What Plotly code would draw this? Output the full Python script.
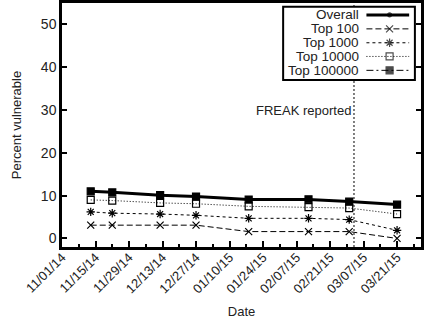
import plotly.graph_objects as go

# Scan dates and percentage of vulnerable hosts per list
dates = ["2014-11-13", "2014-11-22", "2014-12-12", "2014-12-27",
         "2015-01-18", "2015-02-12", "2015-03-01", "2015-03-21"]
overall = [11.0, 10.8, 10.1, 9.8, 9.1, 9.1, 8.6, 7.9]
top100 = [3.1, 3.1, 3.1, 3.1, 1.6, 1.6, 1.6, 0.0]
top1000 = [6.2, 5.9, 5.7, 5.4, 4.7, 4.7, 4.4, 1.9]
top10000 = [9.0, 8.85, 8.3, 8.1, 7.5, 7.3, 7.1, 5.7]
top100000 = [11.0, 10.75, 10.1, 9.8, 9.1, 9.15, 8.6, 7.9]

series_names = ["Overall", "Top 100", "Top 1000", "Top 10000", "Top 100000"]
series_values = [overall, top100, top1000, top10000, top100000]

freak_date = "2015-03-03"
freak_label = "FREAK reported"
x_range = ["2014-11-01", "2015-03-31"]
tick_start = "2014-11-01"
y_ticks = [0, 10, 20, 30, 40, 50]

FONT = "Liberation Sans, Arial, Helvetica, sans-serif"
TXT = "#222222"

styles = [
    dict(dash="solid", width=3, symbol="circle", size=4),
    dict(dash="6px,3px", width=1, symbol="x-thin-open", size=7),
    dict(dash="3px,3px", width=1, symbol="asterisk-open", size=7),
    dict(dash="1px,2px", width=1, symbol="square-open", size=7),
    dict(dash="7px,3px,2px,3px", width=1, symbol="square", size=7),
]

fig = go.Figure()

# data series (draw Overall last so it sits on top)
order = [1, 2, 3, 4, 0]
for i in order:
    st = styles[i]
    fig.add_trace(go.Scatter(
        x=dates, y=series_values[i], name=series_names[i],
        mode="lines+markers",
        line=dict(color="black", width=st["width"], dash=st["dash"]),
        marker=dict(symbol=st["symbol"], size=st["size"], color="black",
                    line=dict(color="black", width=1.2)),
        showlegend=False, xaxis="x", yaxis="y",
    ))

# FREAK disclosure marker
fig.add_shape(type="line", xref="x", yref="paper", x0=freak_date, x1=freak_date,
              y0=0, y1=1, layer="below", line=dict(color="black", width=1, dash="2px,2px"))
fig.add_annotation(x=freak_date, y=30, xref="x", yref="y", text=freak_label,
                   showarrow=False, xanchor="right", yanchor="middle", xshift=-1,
                   font=dict(family=FONT, size=13, color=TXT))

# key box with right-aligned labels and sample lines on an overlay axis
kx0, kx1, ky0, ky1 = 0.616, 0.983, 0.684, 0.985
text_right, samp0, samp1 = 0.831, 0.848, 0.967
rows = [0.951, 0.894, 0.837, 0.781, 0.724]
fig.add_shape(type="rect", xref="paper", yref="paper", x0=kx0, x1=kx1, y0=ky0, y1=ky1,
              line=dict(color="black", width=2), fillcolor="white", layer="below")
for i, name in enumerate(series_names):
    st = styles[i]
    fig.add_annotation(x=text_right, y=rows[i], xref="paper", yref="paper", text=name,
                       showarrow=False, xanchor="right", yanchor="middle", borderpad=0,
                       font=dict(family=FONT, size=13.5, color=TXT))
    mid = (samp0 + samp1) / 2 + 0.005
    fig.add_trace(go.Scatter(
        x=[samp0, mid, samp1], y=[rows[i]] * 3, mode="lines+markers",
        line=dict(color="black", width=st["width"], dash=st["dash"]),
        marker=dict(symbol=st["symbol"], size=[0, st["size"], 0], color="black",
                    line=dict(color="black", width=1.2)),
        showlegend=False, xaxis="x2", yaxis="y2", hoverinfo="skip",
    ))

fig.update_layout(
    width=424, height=324,
    margin=dict(l=62, r=0, t=3, b=77),
    paper_bgcolor="white", plot_bgcolor="white",
    font=dict(family=FONT, size=14, color=TXT),
    showlegend=False,
    xaxis=dict(
        type="date", range=x_range, tickmode="linear", tick0=tick_start,
        dtick=14 * 86400000, tickformat="%m/%d/%y", tickangle=-45,
        ticks="inside", ticklen=6, tickwidth=1.5, tickcolor="black",
        ticklabelstandoff=-5,
        minor=dict(ticks="inside", ticklen=3, tickwidth=1.5, tickcolor="black",
                   dtick=7 * 86400000, tick0=tick_start, showgrid=False),
        showline=True, linecolor="black", linewidth=2.5, mirror=True,
        showgrid=False, zeroline=False,
        tickfont=dict(family=FONT, size=13, color=TXT),
        title=dict(text="Date", font=dict(family=FONT, size=13, color=TXT), standoff=12),
    ),
    yaxis=dict(
        range=[-2, 55], tickvals=y_ticks,
        ticks="inside", ticklen=5, tickwidth=1.5, tickcolor="black",
        showline=True, linecolor="black", linewidth=2.5, mirror="ticks",
        showgrid=False, zeroline=False,
        tickfont=dict(family=FONT, size=14, color=TXT),
        title=dict(text="Percent vulnerable", font=dict(family=FONT, size=13, color=TXT),
                   standoff=17),
    ),
    xaxis2=dict(overlaying="x", range=[0, 1], visible=False, fixedrange=True),
    yaxis2=dict(overlaying="y", range=[0, 1], visible=False, fixedrange=True),
)

fig.write_html("out.html")
